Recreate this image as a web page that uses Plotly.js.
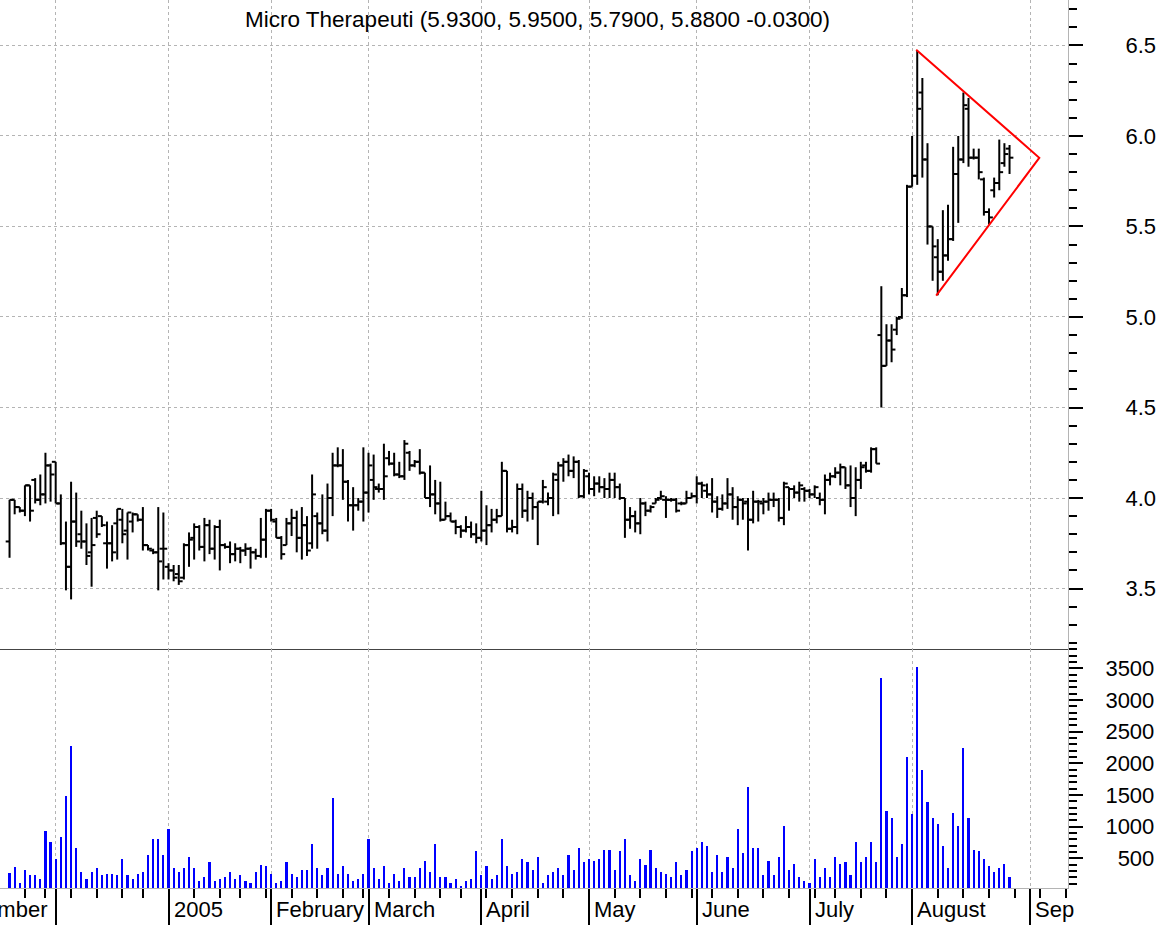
<!DOCTYPE html>
<html>
<head>
<meta charset="utf-8">
<script src="https://cdn.plot.ly/plotly-3.0.1.min.js"></script>
<style>html,body{margin:0;padding:0;background:#fff;}#chart{width:1163px;height:925px;}</style>
</head>
<body>
<div id="chart"></div>
<script>
// Trading days from 17 Nov 2004 (index 0) to 26 Aug 2005 (index 195)
const opens = [3.76,3.99,3.95,3.93,4.07,4.10,3.99,4.02,4.18,4.20,
3.97,3.75,3.62,3.87,3.80,3.76,3.70,3.89,3.90,3.75,
3.75,3.86,3.88,3.82,3.87,3.91,3.88,3.74,3.71,3.70,
3.72,3.62,3.60,3.58,3.56,3.74,3.78,3.84,3.73,3.85,
3.72,3.84,3.74,3.73,3.69,3.72,3.71,3.72,3.70,3.68,
3.77,3.93,3.87,3.78,3.74,3.86,3.89,3.78,3.85,3.75,
3.90,3.86,3.82,4.00,4.18,4.18,4.09,3.96,3.96,3.98,
4.03,4.10,4.05,4.05,4.22,4.19,4.13,4.12,4.25,4.18,
4.20,4.14,4.00,4.02,3.97,3.88,3.90,3.87,3.84,3.82,
3.84,3.80,3.78,3.82,3.85,3.88,3.90,4.15,3.83,3.84,
4.05,3.93,4.00,3.95,3.98,3.98,4.00,4.10,4.18,4.20,
4.15,4.20,4.01,4.12,4.05,4.08,4.06,4.05,4.10,4.06,
4.00,3.88,3.90,3.86,3.97,3.93,3.97,4.00,3.99,3.99,
3.99,3.97,3.97,4.00,4.01,4.08,4.04,4.02,3.98,3.94,
3.97,4.02,3.95,3.99,3.98,3.88,3.98,3.97,3.98,3.99,
3.99,3.89,4.06,4.05,4.03,4.05,4.04,4.02,4.00,3.99,
4.10,4.12,4.14,4.17,4.07,4.00,4.10,4.18,4.15,4.27,
4.90,4.73,4.87,4.93,5.00,5.12,5.72,5.78,6.24,5.87,
5.50,5.33,5.25,5.34,5.43,5.79,5.87,6.15,5.88,5.88,
5.76,5.58,5.70,5.74,5.85,5.93];
const highs = [3.99,3.99,3.95,4.07,4.07,4.11,4.13,4.25,4.19,4.20,
4.02,3.87,4.09,4.03,3.93,3.86,3.89,3.93,3.90,3.87,
3.85,3.94,3.94,3.92,3.92,3.91,3.95,3.74,3.72,3.95,
3.92,3.64,3.63,3.63,3.75,3.81,3.86,3.85,3.89,3.88,
3.85,3.88,3.75,3.76,3.75,3.73,3.75,3.73,3.72,3.89,
3.94,3.94,3.89,3.79,3.89,3.94,3.93,3.95,3.90,4.13,
3.92,4.02,4.08,4.25,4.28,4.27,4.10,4.06,4.00,4.28,
4.25,4.24,4.08,4.30,4.26,4.25,4.20,4.32,4.26,4.21,
4.27,4.14,4.18,4.10,4.09,3.98,3.92,3.88,3.85,3.90,
3.87,3.86,4.04,3.96,3.94,3.94,4.20,4.15,3.88,4.08,
4.08,4.04,4.03,3.98,4.10,4.03,4.14,4.20,4.22,4.24,
4.23,4.21,4.16,4.14,4.12,4.12,4.11,4.14,4.14,4.08,
4.00,3.95,3.93,4.00,3.98,3.96,4.00,4.04,4.01,4.00,
4.00,3.98,4.04,4.03,4.12,4.09,4.08,4.11,4.01,4.02,
4.11,4.06,4.01,4.00,4.00,4.04,3.99,4.00,4.03,4.03,
4.00,4.09,4.06,4.07,4.09,4.06,4.05,4.07,4.03,4.13,
4.14,4.17,4.19,4.17,4.18,4.17,4.20,4.20,4.28,4.28,
5.17,4.96,4.96,5.00,5.16,5.73,6.00,6.47,6.32,5.96,
5.50,5.43,5.59,5.62,5.94,6.00,6.24,6.21,5.93,5.93,
5.77,5.60,5.77,5.98,5.96,5.95];
const lows = [3.67,3.91,3.92,3.90,3.87,3.97,3.96,3.97,3.98,3.97,
3.74,3.49,3.44,3.73,3.72,3.63,3.51,3.78,3.84,3.61,
3.65,3.66,3.75,3.66,3.81,3.87,3.71,3.71,3.69,3.49,
3.55,3.55,3.54,3.52,3.55,3.62,3.66,3.71,3.65,3.69,
3.66,3.60,3.72,3.64,3.65,3.64,3.68,3.61,3.66,3.67,
3.67,3.87,3.78,3.66,3.74,3.79,3.70,3.66,3.68,3.72,
3.72,3.80,3.76,3.90,4.17,3.99,3.87,3.82,3.93,3.87,
3.92,3.99,4.03,3.99,4.18,4.12,4.11,4.10,4.15,4.17,
4.13,4.00,3.95,3.91,3.87,3.88,3.87,3.80,3.78,3.81,
3.78,3.75,3.76,3.74,3.81,3.86,3.90,3.81,3.81,3.80,
3.89,3.87,3.88,3.74,3.97,3.96,3.90,3.91,4.09,4.12,
4.11,4.00,4.00,4.02,4.01,4.03,4.00,4.00,4.00,3.99,
3.78,3.83,3.81,3.80,3.90,3.92,3.97,3.99,3.89,3.98,
3.92,3.96,3.97,4.00,3.97,4.00,4.00,3.92,3.89,3.93,
3.94,3.88,3.85,3.88,3.71,3.86,3.87,3.91,3.93,3.95,
3.87,3.85,3.93,4.00,3.98,3.98,4.00,4.00,3.96,3.91,
4.07,4.11,4.07,4.05,3.95,3.90,4.05,4.14,4.14,4.19,
4.50,4.73,4.75,4.90,4.99,5.11,5.72,5.73,5.77,5.40,
5.20,5.12,5.20,5.31,5.42,5.52,5.85,5.83,5.87,5.76,
5.56,5.51,5.66,5.70,5.83,5.79];
const closes = [3.99,3.95,3.93,4.07,3.93,3.99,4.02,4.18,4.13,3.97,
3.75,3.62,3.87,3.76,3.76,3.68,3.74,3.80,3.85,3.75,
3.70,3.94,3.80,3.92,3.91,3.88,3.74,3.72,3.70,3.65,
3.72,3.60,3.56,3.54,3.74,3.77,3.84,3.73,3.85,3.72,
3.84,3.74,3.73,3.69,3.72,3.71,3.72,3.70,3.68,3.77,
3.93,3.88,3.78,3.69,3.86,3.89,3.78,3.85,3.71,4.02,
3.86,3.82,4.00,4.18,4.18,4.09,3.96,3.96,3.98,4.03,
4.18,4.06,4.05,4.12,4.19,4.13,4.12,4.30,4.18,4.20,
4.14,4.00,4.02,3.97,3.88,3.90,3.87,3.84,3.82,3.84,
3.80,3.78,3.82,3.85,3.88,3.90,4.15,3.83,3.84,4.05,
3.93,4.00,3.95,3.98,4.06,4.00,4.13,4.18,4.20,4.15,
4.20,4.01,4.15,4.05,4.08,4.06,4.05,4.10,4.06,4.00,
3.88,3.90,3.86,3.97,3.93,3.95,3.99,4.01,3.99,3.99,
3.93,3.97,4.00,4.01,4.08,4.07,4.02,3.98,3.94,3.97,
4.02,3.95,3.99,3.97,3.88,3.98,3.98,3.98,3.99,3.99,
3.89,4.08,4.05,4.03,4.07,4.04,4.02,4.06,3.99,4.10,
4.12,4.14,4.17,4.07,4.00,4.10,4.17,4.15,4.27,4.19,
4.73,4.87,4.82,4.99,5.12,5.72,5.78,6.15,5.87,5.50,
5.39,5.25,5.34,5.43,5.79,5.87,6.17,5.88,5.88,5.80,
5.58,5.55,5.74,5.80,5.90,5.88];
const volumes = [263,368,105,315,231,231,173,926,757,494,
836,1484,2273,663,284,173,284,341,231,257,
257,231,494,231,173,257,284,552,810,810,
552,957,341,284,341,520,341,141,199,436,
141,173,199,284,173,231,141,115,284,399,
373,257,115,141,436,257,199,315,315,726,
341,231,341,1452,257,373,257,141,173,257,
810,341,173,373,115,257,141,341,199,199,
341,463,284,726,199,199,115,173,57,141,
173,610,231,373,173,231,810,373,257,284,
494,436,315,520,115,231,284,341,231,552,
315,663,436,494,463,494,636,636,315,610,
810,231,141,494,399,636,341,284,257,199,
436,231,315,610,668,757,694,284,552,284,
520,347,957,578,1626,668,668,231,463,231,
520,1015,315,405,199,141,115,494,199,347,
199,520,405,436,231,757,436,520,757,436,
3347,1252,1131,520,726,2094,1194,3520,1889,1394,
1131,1047,694,347,1220,1015,2242,1131,636,610,
494,373,289,347,405,199];

// Triangle pattern drawn on the price pane (day index, price)
const triangleX = [176.8, 200.8, 180.7];
const triangleY = [6.476, 5.879, 5.118];

// Axis ticks
const monthIdx = [-12, 9, 31, 51, 70, 92, 113, 134, 156, 176, 199];
const monthLabels = ["November", "", "2005", "February", "March", "April", "May", "June", "July", "August", "Sep"];
const weekIdx = [3,7,12,17,22,26,36,41,45,50,55,60,65,69,74,79,84,88,93,98,103,108,118,123,128,133,137,142,147,152,157,161,166,171,181,186,191,196,201,206];
const priceTicks = [3.5, 4.0, 4.5, 5.0, 5.5, 6.0, 6.5];
const priceLabels = ["3.5", "4.0", "4.5", "5.0", "5.5", "6.0", "6.5"];
const volTicks = [500, 1000, 1500, 2000, 2500, 3000, 3500];
const volLabels = ["\u2007500", "1000", "1500", "2000", "2500", "3000", "3500"];
const titleText = "Micro Therapeuti (5.9300, 5.9500, 5.7900, 5.8800 -0.0300)";

const FONT = "Liberation Sans, Arial, Helvetica, sans-serif";
const dayIdx = opens.map((_, i) => i);

// OHLC bars as line segments: high-low stem, open tick left, close tick right
const w = 0.75;
const bx = [], by = [];
for (let i = 0; i < dayIdx.length; i++) {
  const k = dayIdx[i];
  bx.push(k, k, null, k - w, k, null, k, k + w, null);
  by.push(lows[i], highs[i], null, opens[i], opens[i], null, closes[i], closes[i], null);
}

const traces = [
  {type: 'bar', x: dayIdx, y: volumes, xaxis: 'x2', yaxis: 'y2', width: 0.42,
   marker: {color: '#0000ff', line: {width: 0}}, hoverinfo: 'skip'},
  {type: 'scatter', mode: 'lines', x: bx, y: by, xaxis: 'x', yaxis: 'y',
   line: {color: '#000000', width: 2}, connectgaps: false, hoverinfo: 'skip'},
  {type: 'scatter', mode: 'lines', x: triangleX, y: triangleY, xaxis: 'x', yaxis: 'y',
   line: {color: '#ff0000', width: 2}, hoverinfo: 'skip'}
];

const XR = [-1.86, 206.4];
const split = (888 - 649) / 888;
const gridC = '#b4b4b4';

// month labels sit just right of each month tick; the first (November) starts before the
// visible range, so only its tail shows at the left page edge, as in the reference
const annotations = [];
monthLabels.forEach((t, i) => {
  if (!t) return;
  annotations.push({x: (monthIdx[i] - XR[0]) / (XR[1] - XR[0]), xref: 'paper', y: 0, yref: 'paper',
    xanchor: 'left', yanchor: 'top',
    xshift: i === 0 ? -4 : 3, yshift: -7, text: t, showarrow: false,
    font: {family: FONT, size: 22, color: '#000'}});
});

const layout = {
  width: 1163, height: 925,
  margin: {l: 0, r: 95, t: 0, b: 37, pad: 0},
  paper_bgcolor: '#ffffff', plot_bgcolor: '#ffffff',
  showlegend: false, bargap: 0,
  font: {family: FONT, size: 22, color: '#000'},
  title: {text: titleText, x: 537.5 / 1163, xanchor: 'center', xref: 'container',
          y: 1 - 19 / 925, yanchor: 'middle', yref: 'container',
          font: {family: FONT, size: 22.5, color: '#000'}},
  xaxis: {domain: [0, 1], anchor: 'y', range: XR, tickmode: 'array', tickvals: monthIdx,
          showticklabels: false, ticks: '', showgrid: true, gridcolor: gridC, griddash: 'dot', gridwidth: 1,
          showline: true, linecolor: '#444', linewidth: 1, zeroline: false, fixedrange: true},
  xaxis2: {domain: [0, 1], anchor: 'y2', range: XR, tickmode: 'array', tickvals: monthIdx,
           showticklabels: false, ticks: 'outside', ticklen: 37, tickwidth: 2, tickcolor: '#000',
           showgrid: true, gridcolor: gridC, griddash: 'dot', gridwidth: 1,
           showline: true, linecolor: '#b4b4b4', linewidth: 1, zeroline: false, fixedrange: true,
           minor: {tickmode: 'array', tickvals: weekIdx, ticks: 'outside', ticklen: 9, tickwidth: 2,
                   tickcolor: '#000', showgrid: false}},
  yaxis: {domain: [split, 1], anchor: 'x', side: 'right', range: [3.166, 6.751],
          tickmode: 'array', tickvals: priceTicks, ticktext: priceLabels,
          ticks: 'outside', ticklen: 14, tickwidth: 2, tickcolor: '#000',
          ticklabelstandoff: 38,
          tickfont: {family: FONT, size: 22, color: '#000'},
          showgrid: true, gridcolor: gridC, griddash: 'dot', gridwidth: 1,
          showline: true, linecolor: '#b4b4b4', linewidth: 1, zeroline: false, fixedrange: true,
          minor: {tickmode: 'linear', tick0: 0, dtick: 0.1, ticks: 'outside', ticklen: 8, tickwidth: 2,
                  tickcolor: '#000', showgrid: false}},
  yaxis2: {domain: [0, split], anchor: 'x2', side: 'right', range: [31, 3806],
           tickmode: 'array', tickvals: volTicks, ticktext: volLabels,
           ticks: 'outside', ticklen: 14, tickwidth: 2, tickcolor: '#000',
           ticklabelstandoff: 18,
           tickfont: {family: FONT, size: 22, color: '#000'},
           showgrid: false, showline: true, linecolor: '#b4b4b4', linewidth: 1,
           zeroline: false, fixedrange: true,
           minor: {tickmode: 'linear', tick0: 0, dtick: 100, ticks: 'outside', ticklen: 8, tickwidth: 2,
                   tickcolor: '#000', showgrid: false}},
  annotations: annotations
};

Plotly.newPlot('chart', traces, layout, {staticPlot: true, displayModeBar: false});
</script>
</body>
</html>
